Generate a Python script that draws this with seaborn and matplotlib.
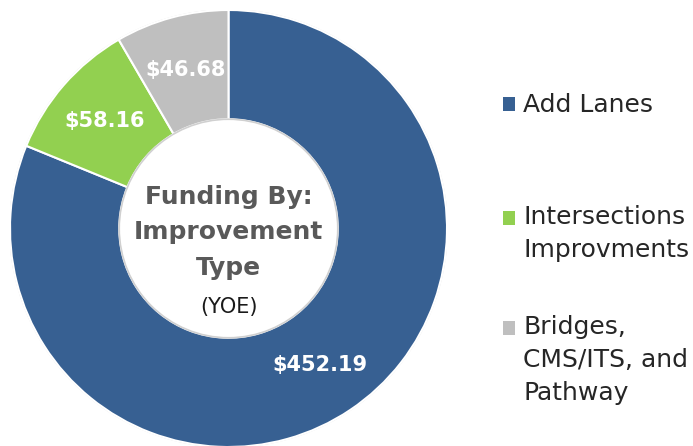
import matplotlib
matplotlib.use("Agg")
import matplotlib.pyplot as plt
from matplotlib.patches import Circle, Rectangle
from matplotlib.legend_handler import HandlerPatch
import seaborn as sns

# Funding by improvement type (YOE, $M)
categories = ["Add Lanes", "Intersections\nImprovments", "Bridges,\nCMS/ITS, and\nPathway"]
values = [452.19, 58.16, 46.68]
colors = ["#376092", "#92D050", "#BFBFBF"]

sns.set_theme(style="white")
plt.rcParams["font.family"] = ["DejaVu Sans"]

fig = plt.figure(figsize=(6.93, 4.46), dpi=100)
W, H = 693, 446
cx, cy, r = 228.5, 228.5, 218.5
ax = fig.add_axes([(cx - r) / W, (H - cy - r) / H, 2 * r / W, 2 * r / H])

wedges, _, autotexts = ax.pie(
    values,
    colors=colors,
    startangle=90,
    counterclock=False,
    radius=1.0,
    autopct="%.1f",
    pctdistance=0.75,
    wedgeprops=dict(width=0.5, edgecolor="white", linewidth=1.5),
)
for t, v in zip(autotexts, values):
    t.set_text(f"${v:.2f}")
    t.set_color("white")
    t.set_fontsize(15)
    t.set_fontweight("bold")

# faint rims around the ring
ax.add_patch(Circle((0, 0), 1.0, fill=False, edgecolor="#d9d9d9", linewidth=1.2, zorder=0))
ax.add_patch(Circle((0, 0), 0.5, fill=False, edgecolor="#d0d0d0", linewidth=1.2, zorder=3))
ax.set_xlim(-1, 1)
ax.set_ylim(-1, 1)
ax.set_aspect("equal")
ax.axis("off")

# centre caption
ax.text(0, -0.018, "Funding By:\nImprovement\nType", ha="center", va="center",
        fontsize=18, fontweight="bold", color="#595959", linespacing=1.62)
ax.text(0, -0.36, "(YOE)", ha="center", va="center", fontsize=15, color="#1a1a1a")


class FirstLineSquare(HandlerPatch):
    """Square legend key aligned with the first line of a multi-line label."""

    def __init__(self, nlines, step, **kw):
        super().__init__(**kw)
        self.shift = (nlines - 1) / 2 * step

    def create_artists(self, legend, orig_handle, xdescent, ydescent,
                       width, height, fontsize, trans):
        sq = Rectangle((-xdescent, -ydescent + self.shift), width, height,
                       facecolor=orig_handle.get_facecolor(), edgecolor="none",
                       transform=trans)
        return [sq]


LEG_FS = 18
LINE_STEP_PT = 23.8
item_centres = [105.5, 233.5, 360]
for wedge, label, yc in zip(wedges, categories, item_centres):
    nlines = label.count("\n") + 1
    leg = fig.legend(
        [wedge], [label],
        loc="center left", bbox_to_anchor=(503 / W, 1 - yc / H),
        frameon=False, fontsize=LEG_FS, handlelength=0.48, handleheight=0.48,
        handletextpad=0.32, borderpad=0, borderaxespad=0,
        handler_map={wedge: FirstLineSquare(nlines, LINE_STEP_PT)},
    )
    for txt in leg.get_texts():
        txt.set_color("#262626")
        txt.set_linespacing(1.46)

fig.savefig("out.png", dpi=100)
